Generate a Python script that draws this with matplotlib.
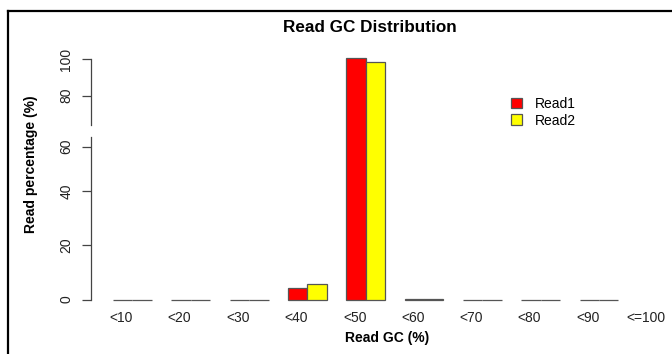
"""
Read GC distribution bar chart (broken y axis, R barplot look)
"""

import numpy as np
import matplotlib
matplotlib.use("Agg")
import matplotlib.pyplot as plt
from matplotlib.lines import Line2D
from matplotlib.patches import Patch

# data
gc_labels = ['<10', '<20', '<30', '<40', '<50', '<60', '<70', '<80', '<90', '<=100']
read1 = [0.0, 0.0, 0.0, 4.4, 100.7, 0.3, 0.0, 0.0, 0.0]
read2 = [0.0, 0.0, 0.0, 5.6, 98.6, 0.2, 0.0, 0.0, 0.0]
y_ticks = [0, 20, 40, 60, 80, 100]

plt.rcParams['font.family'] = ['Liberation Sans', 'DejaVu Sans']

W, H = 672, 354
fig = plt.figure(figsize=(W / 100, H / 100), dpi=100)

# piecewise y scale: value -> pixel height above the zero line
knot_v = np.array([-10, 0, 20, 40, 60, 80, 100, 120])
knot_h = np.array([-27.1, 0, 54.2, 108.5, 153.0, 204.0, 240.5, 277.0])

def fwd(v):
    return np.interp(v, knot_v, knot_h)

def inv(h):
    return np.interp(h, knot_h, knot_v)

# axes placement in pixels
y0_px = 299.5          # pixel row of value 0
top_px = 45.0
bot_px = y0_px + 3
x_axis_px = 90.7
right_px = 665.0
unit = 19.44           # one bar width in pixels
first_px = 113.0       # left edge of first bar

ax = fig.add_axes([x_axis_px / W, (H - bot_px) / H,
                   (right_px - x_axis_px) / W, (bot_px - top_px) / H])
ax.set_yscale('function', functions=(fwd, inv))
ax.set_ylim(inv(-3), inv(y0_px - top_px))
ax.set_xlim((x_axis_px - first_px) / unit + 1, (right_px - first_px) / unit + 1)

n = len(read1)
left1 = 1 + 3 * np.arange(n)
edge = '#555555'
ax.bar(left1, read1, width=1, align='edge', color='#FF0000', edgecolor=edge,
       linewidth=0.9, clip_on=False)
ax.bar(left1 + 1, read2, width=1, align='edge', color='#FFFF00', edgecolor=edge,
       linewidth=0.9, clip_on=False)

for s in ax.spines.values():
    s.set_visible(False)

# broken y axis line
tr = ax.get_yaxis_transform()
ax.plot([0, 0], [0, 63.8], transform=tr, color='#444444', lw=0.9, clip_on=False)
ax.plot([0, 0], [68.4, 100], transform=tr, color='#444444', lw=0.9, clip_on=False)

ax.set_yticks(y_ticks)
ax.set_yticklabels([str(t) for t in y_ticks], rotation=90, va='center')
ax.tick_params(axis='y', length=6.5, width=0.9, color='#444444', pad=6,
               labelsize=10, labelcolor='#222222')
ax.yaxis.set_minor_locator(plt.NullLocator())

label_x = 2 + 3 * np.arange(len(gc_labels)) - 0.57
ax.set_xticks(label_x)
ax.set_xticklabels(gc_labels)
ax.tick_params(axis='x', length=0, pad=6, labelsize=10, labelcolor='#222222')

# titles
fig.text(370 / W, 1 - 27 / H, 'Read GC Distribution', ha='center', va='center',
         fontsize=12.3, fontweight='bold')
fig.text(387 / W, 1 - 338 / H, 'Read GC (%)', ha='center', va='center',
         fontsize=10, fontweight='bold')
fig.text(31 / W, 1 - 164 / H, 'Read percentage (%)', ha='center', va='center',
         rotation=90, fontsize=10, fontweight='bold')

# legend
handles = [Patch(facecolor='#FF0000', edgecolor=edge, linewidth=0.9, label='Read1'),
           Patch(facecolor='#FFFF00', edgecolor=edge, linewidth=0.9, label='Read2')]
fig.legend(handles=handles, loc='upper left',
           bbox_to_anchor=(508 / W, 1 - 94 / H), frameon=False, fontsize=10,
           handlelength=0.8, handleheight=0.8, handletextpad=0.9,
           labelspacing=0.2, borderpad=0.2, borderaxespad=0)

# frame lines (left and top edge of the panel)
fig.add_artist(Line2D([7.5 / W, 7.5 / W], [0, 1 - 11 / H], color='black', lw=1.6))
fig.add_artist(Line2D([7.5 / W, 1], [1 - 11 / H, 1 - 11 / H], color='black', lw=1.6))

fig.savefig('out.png', dpi=100)
